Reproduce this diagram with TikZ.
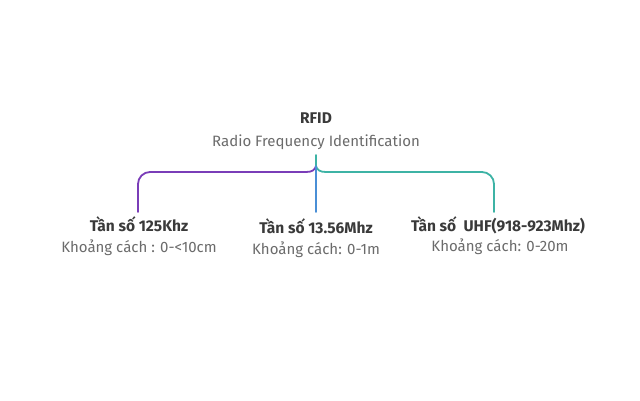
\documentclass[tikz,border=0pt]{standalone}
\usepackage{fontspec}
\setmainfont{Fira Sans}
\definecolor{titlec}{HTML}{3A3A3A}
\definecolor{subc}{HTML}{6B6B6B}
\definecolor{purp}{HTML}{7A3DB8}
\definecolor{tealc}{HTML}{3DB3A5}
\definecolor{bluec}{HTML}{4A8FD6}
\begin{document}
\begin{tikzpicture}[x=1pt,y=-1pt,
  head/.style={font=\fontsize{15.5}{18}\selectfont\bfseries, text=titlec, anchor=base, inner sep=0pt},
  sub/.style={font=\fontsize{15}{18}\selectfont, text=subc, anchor=base, inner sep=0pt},
  link/.style={line width=1.8pt, line cap=round}]
\useasboundingbox[fill=white] (0,0) rectangle (640,400);
\node[head] (rfid) at (316,123) {RFID};
\node[sub] (rfidsub) at (316,146.5) {Radio Frequency Identification};
\coordinate (top) at (316,155);
\coordinate (tip) at (316,166);
\coordinate (lend) at (138,212);
\coordinate (mend) at (316,212);
\coordinate (rend) at (494,212);
\node[head] (f1) at (139,231.5) {Tần số 125Khz};
\node[sub] (d1) at (139,252.5) {Khoảng cách : 0-<10cm};
\node[head] (f2) at (316,233.5) {Tần số 13.56Mhz};
\node[sub] (d2) at (316,254.5) {Khoảng cách: 0-1m};
\node[head] (f3) at (498,231.5) {Tần số\ \ UHF(918-923Mhz)};
\node[sub] (d3) at (500,251.5) {Khoảng cách: 0-20m};
\draw[link, purp, rounded corners=12pt] (lend) -- (138,172) -- (306,172);
\draw[link, purp] (306,172) .. controls (312,172) and (315,170) .. (tip);
\draw[link, tealc, rounded corners=12pt] (326,172) -- (494,172) -- (rend);
\draw[link, tealc] (tip) .. controls (317,170) and (320,172) .. (326,172);
\draw[link, tealc] (top) -- (tip);
\draw[link, bluec] (tip) -- (mend);
\end{tikzpicture}
\end{document}
